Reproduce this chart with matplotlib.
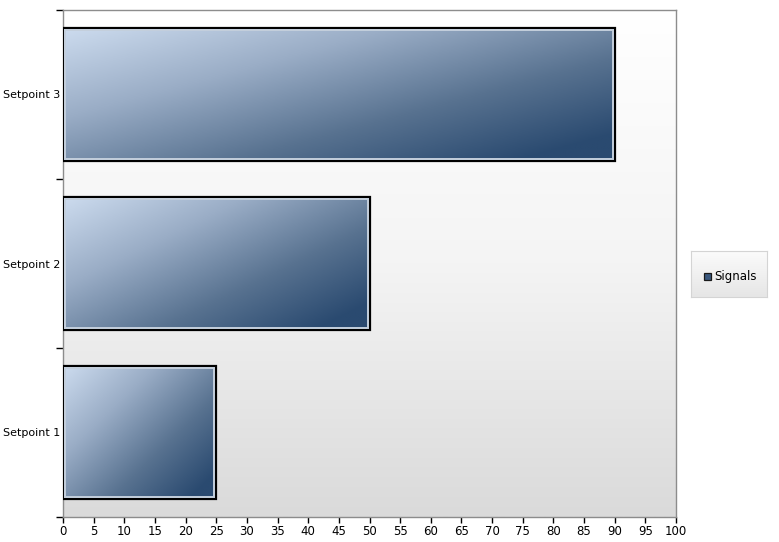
import numpy as np
import matplotlib
matplotlib.use("Agg")
import matplotlib.pyplot as plt
from matplotlib.colors import LinearSegmentedColormap
from matplotlib.patches import Rectangle

categories = ["Setpoint 1", "Setpoint 2", "Setpoint 3"]
values = [25, 50, 90]
series_name = "Signals"
xticks = list(range(0, 101, 5))

W, H = 779, 542
fig = plt.figure(figsize=(W / 100, H / 100), dpi=100)
fig.patch.set_facecolor("white")

L, R, T, B = 63, 676, 10, 517
ax = fig.add_axes([L / W, 1 - B / H, (R - L) / W, (B - T) / H])
ax.set_xlim(0, 100)
ax.set_ylim(-0.5, 2.5)

# background gradient
bg = np.linspace(0, 1, 256).reshape(-1, 1)
bg_cmap = LinearSegmentedColormap.from_list("bg", ["#dadada", "#f4f4f4", "#ffffff"])
ax.imshow(bg, extent=(0, 1, 0, 1), transform=ax.transAxes, cmap=bg_cmap,
          aspect="auto", origin="lower", zorder=0)

bar_cmap = LinearSegmentedColormap.from_list(
    "bar", [(0.0, "#cddcef"), (0.35, "#9aadc6"), (0.7, "#587290"), (1.0, "#2a4a70")])

px_x = 100 / (R - L)
px_y = 3 / (B - T)
bh = 0.79
bars = ax.barh(range(len(categories)), values, height=bh, facecolor="none",
               edgecolor="black", linewidth=1.6, zorder=3)
for bar, v in zip(bars, values):
    x0, y0 = bar.get_x(), bar.get_y()
    w, h = bar.get_width(), bar.get_height()
    nx, ny = 200, 100
    u = np.linspace(0, 1, nx)[None, :]
    vv = np.linspace(0, 1, ny)[:, None]  # 0 top -> 1 bottom
    t = np.clip(0.58 * u + 0.52 * vv, 0, 1)
    ax.imshow(t, extent=(x0, x0 + w, y0, y0 + h), cmap=bar_cmap, vmin=0, vmax=1,
              aspect="auto", origin="upper", zorder=2, interpolation="bilinear")
    inner = Rectangle((x0 + 2 * px_x, y0 + 2 * px_y), w - 4 * px_x, h - 4 * px_y,
                      facecolor="none", edgecolor="#c4cfdc", linewidth=1.4, zorder=4)
    ax.add_patch(inner)

ax.set_xticks(xticks)
ax.set_xticklabels([str(x) for x in xticks], fontsize=8.5)
ax.set_yticks([-0.5, 0.5, 1.5, 2.5])
ax.set_yticklabels([])
ax.set_yticks(range(len(categories)), minor=True)
ax.set_yticklabels(categories, minor=True, fontsize=8)
ax.tick_params(axis="y", which="minor", length=0, pad=2)
ax.tick_params(axis="y", which="major", length=5, width=1, color="black")
ax.tick_params(axis="x", length=4, width=1, color="black", pad=2)
for s in ax.spines.values():
    s.set_color("#8c8c8c")
    s.set_linewidth(1)

# legend box
lx0, lx1, ly0, ly1 = 691, 767, 251, 297
lax = fig.add_axes([lx0 / W, 1 - ly1 / H, (lx1 - lx0) / W, (ly1 - ly0) / H])
lax.set_xlim(0, lx1 - lx0)
lax.set_ylim(ly1 - ly0, 0)
lg = np.linspace(0, 1, 64).reshape(-1, 1)
lg_cmap = LinearSegmentedColormap.from_list("lg", ["#fbfbfb", "#e6e6e6"])
lax.imshow(lg, extent=(0, lx1 - lx0, ly1 - ly0, 0), cmap=lg_cmap, aspect="auto",
           origin="upper", zorder=0)
lax.set_xticks([])
lax.set_yticks([])
for s in lax.spines.values():
    s.set_color("#d4d4d4")
lax.add_patch(Rectangle((13, 22), 7, 7, facecolor="#3a587e", edgecolor="#1a1a1a",
                        linewidth=0.9, zorder=2))
lax.text(23, 25.5, series_name, fontsize=8.5, va="center", ha="left", zorder=3)

fig.savefig("out.png", dpi=100)
